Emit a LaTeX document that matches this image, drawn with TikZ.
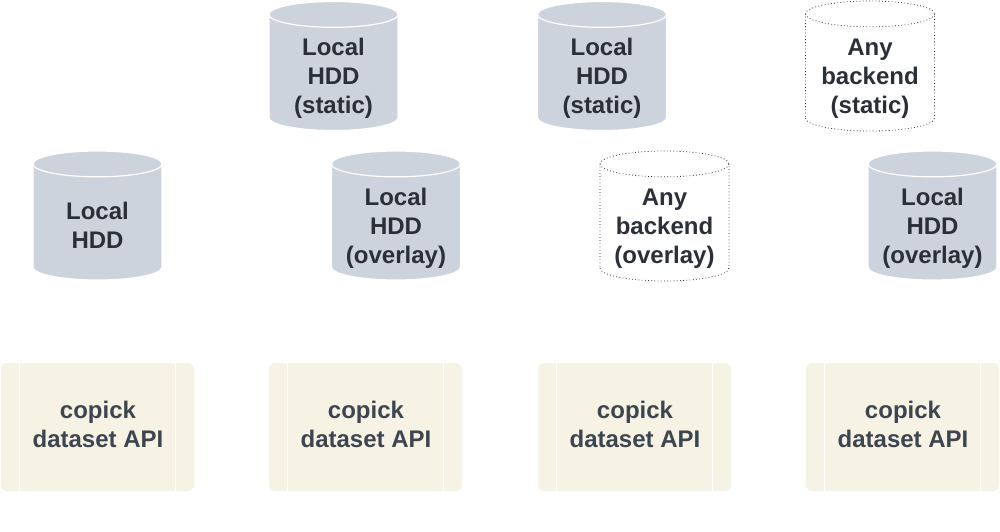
\documentclass[tikz,border=0pt]{standalone}
\usepackage{fontspec}
\setmainfont{Liberation Sans}
\usepackage{xcolor}
\usetikzlibrary{shapes.geometric, positioning, calc}
\definecolor{hddgray}{RGB}{205,211,220}
\definecolor{apicream}{RGB}{246,243,228}
\definecolor{hddtext}{RGB}{43,47,56}
\definecolor{apitext}{RGB}{61,69,80}

\begin{document}
\begin{tikzpicture}[
  x=1pt,y=-1pt,
  font=\fontsize{24}{29}\selectfont\bfseries,
  hdd/.style={cylinder,shape border rotate=90,aspect=.41,draw=white,line width=1.2pt,fill=hddgray,
              minimum width=129pt,minimum height=129pt,inner sep=0pt,anchor=shape center,
              execute at begin node={\rule{63pt}{0pt}}},
  anyb/.style={hdd,draw=hddtext,dash pattern=on .8pt off 2.4pt,line width=.8pt,fill=none,
               minimum width=129pt,minimum height=130pt},
  api/.style={fill=apicream,rounded corners=6pt,
              minimum width=193pt,minimum height=128pt,inner sep=0pt},
  bar/.style={draw=white,line width=1.2pt},
  hddlabel/.style={align=center,text=hddtext,inner sep=0pt},
  apilabel/.style={align=center,text=apitext,inner sep=0pt}
]
  \useasboundingbox (0,0) rectangle (1000,531);
  % top row
  \node[hdd] (st1) at (333.5,66) {};
  \node[hddlabel] (st1t) at (333.5,78) {Local\\HDD\\(static)};
  \node[hdd] (st2) at (602,66) {};
  \node[hddlabel] (st2t) at (602,78) {Local\\HDD\\(static)};
  \node[anyb] (st3) at (870,66) {};
  \node[hddlabel] (st3t) at (870,79) {Any\\backend\\(static)};
  % middle row
  \node[hdd] (ov0) at (97.5,215.5) {};
  \node[hddlabel] (ov0t) at (97.5,225) {Local\\HDD};
  \node[hdd] (ov1) at (396,215.5) {};
  \node[hddlabel] (ov1t) at (396,228) {Local\\HDD\\(overlay)};
  \node[anyb] (ov2) at (664.5,216) {};
  \node[hddlabel] (ov2t) at (664.5,229) {Any\\backend\\(overlay)};
  \node[hdd] (ov3) at (932.5,215.5) {};
  \node[hddlabel] (ov3t) at (932.5,228) {Local\\HDD\\(overlay)};
  % dataset boxes
  \foreach \n/\x in {a0/97.5,a1/365.5,a2/634.5,a3/902.5}{
    \node[api] (\n) at (\x,427) {};
    \node[apilabel] (\n t) at (\x+.5,424.5) {copick\\dataset API};
    \draw[bar] ($(\n.north west)+(19,0)$) -- ($(\n.south west)+(19,0)$);
    \draw[bar] ($(\n.north east)+(-19,0)$) -- ($(\n.south east)+(-19,0)$);
  }
\end{tikzpicture}
\end{document}
